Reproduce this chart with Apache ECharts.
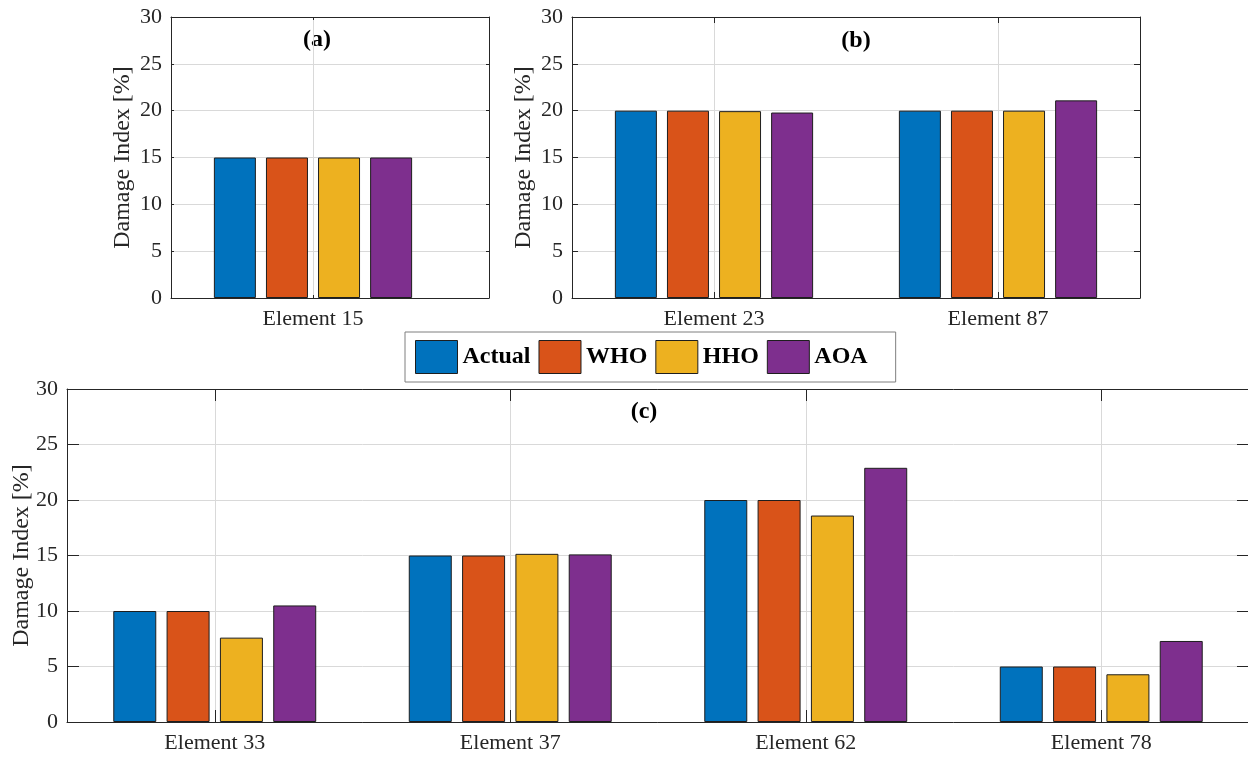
<!DOCTYPE html>
<html><head><meta charset="utf-8">
<script src="https://cdn.jsdelivr.net/npm/echarts@6/dist/echarts.min.js"></script>
<style>html,body{margin:0;padding:0;background:#fff}#c{width:1248px;height:757px}</style>
</head><body><div id="c"></div>
<script>
// ---- data ----
const seriesNames = ['Actual', 'WHO', 'HHO', 'AOA'];
const catsA = ['Element 15'];
const catsB = ['Element 23', 'Element 87'];
const catsC = ['Element 33', 'Element 37', 'Element 62', 'Element 78'];
const actualA = [15];
const whoA = [15];
const hhoA = [15];
const aoaA = [15];
const actualB = [20, 20];
const whoB = [20, 20];
const hhoB = [19.95, 20];
const aoaB = [19.8, 21.1];
const actualC = [10, 15, 20, 5];
const whoC = [10, 15, 20, 5];
const hhoC = [7.6, 15.15, 18.6, 4.3];
const aoaC = [10.5, 15.1, 22.9, 7.3];
const yMin = 0, yMax = 30, yStep = 5;
const panelTitles = ['(a)', '(b)', '(c)'];
const yName = 'Damage Index [%]';

// ---- style ----
const colors = ['#0072BD', '#D95319', '#EDB120', '#7E2F8E'];
const FONT = 'Liberation Serif';
const AX = '#262626';
const GRIDC = '#d9d9d9';

function yLeft(gi, tickLen, nameGap) {
  return {
    gridIndex: gi, type: 'value', position: 'left', min: yMin, max: yMax, interval: yStep,
    name: yName, nameLocation: 'middle', nameGap: nameGap, nameMoveOverlap: false,
    nameTextStyle: { fontFamily: FONT, fontSize: 24, color: AX },
    axisLine: { show: true, onZero: false, lineStyle: { color: AX, width: 1 } },
    axisTick: { show: true, inside: true, length: tickLen, lineStyle: { color: AX } },
    axisLabel: { show: true, margin: 9, fontFamily: FONT, fontSize: 22, color: AX },
    splitLine: { show: true, lineStyle: { color: GRIDC, width: 1 } }
  };
}
function yRight(gi, tickLen) {
  return {
    gridIndex: gi, type: 'value', position: 'right', min: yMin, max: yMax, interval: yStep,
    axisLine: { show: true, onZero: false, lineStyle: { color: AX, width: 1 } },
    axisTick: { show: true, inside: true, length: tickLen, lineStyle: { color: AX } },
    axisLabel: { show: false }, splitLine: { show: false }
  };
}
function xCatBottom(gi, cats, tickLen, showLine) {
  return {
    gridIndex: gi, type: 'category', position: 'bottom', data: cats,
    axisLine: { show: showLine, onZero: false, lineStyle: { color: AX, width: 1 } },
    axisTick: { show: true, inside: true, alignWithLabel: true, length: tickLen, lineStyle: { color: AX } },
    axisLabel: { show: true, margin: 10, fontFamily: FONT, fontSize: 22, color: AX },
    splitLine: { show: true, alignWithLabel: true, lineStyle: { color: GRIDC, width: 1 } }
  };
}
function xCatTop(gi, cats, tickLen, showLine) {
  return {
    gridIndex: gi, type: 'category', position: 'top', data: cats,
    axisLine: { show: showLine, onZero: false, lineStyle: { color: AX, width: 1 } },
    axisTick: { show: true, inside: true, alignWithLabel: true, length: tickLen, lineStyle: { color: AX } },
    axisLabel: { show: false }, splitLine: { show: false }
  };
}
function xFrame(gi, pos) {
  return {
    gridIndex: gi, type: 'value', position: pos, min: 0, max: 1,
    axisLine: { show: true, onZero: false, lineStyle: { color: AX, width: 1 } },
    axisTick: { show: false }, axisLabel: { show: false }, splitLine: { show: false }
  };
}

function bars(names, dataSets, xi, yi, width) {
  return names.map((n, i) => ({
    name: n, type: 'bar', xAxisIndex: xi, yAxisIndex: yi,
    data: dataSets[i], barWidth: width, barGap: '24%',
    itemStyle: { color: colors[i], borderColor: '#1e1e1e', borderWidth: 1 }
  }));
}

const G = { containLabel: false, outerBoundsMode: 'none' };
const option = {
  animation: false,
  backgroundColor: '#fff',
  grid: [
    Object.assign({ left: 171, top: 17, width: 318, height: 281 }, G),   // (a) frame
    Object.assign({ left: 171, top: 17, width: 284, height: 281 }, G),   // (a) bars
    Object.assign({ left: 572, top: 17, width: 568, height: 281 }, G),   // (b)
    Object.assign({ left: 67, top: 389, width: 1182, height: 333 }, G)   // (c)
  ],
  xAxis: [
    xFrame(0, 'bottom'), xFrame(0, 'top'),
    xCatBottom(1, catsA, 3, false), xCatTop(1, catsA, 3, false),
    xCatBottom(2, catsB, 6, true), xCatTop(2, catsB, 6, true),
    xCatBottom(3, catsC, 12, true), xCatTop(3, catsC, 12, true)
  ],
  yAxis: [
    yLeft(0, 3, 36), yRight(0, 3),
    { gridIndex: 1, type: 'value', min: yMin, max: yMax, show: false },
    yLeft(2, 6, 36), yRight(2, 6),
    yLeft(3, 12, 33), yRight(3, 12)
  ],
  legend: {
    data: seriesNames, left: 405, top: 332, orient: 'horizontal',
    padding: [8, 28, 8, 10], itemWidth: 42, itemHeight: 33, itemGap: 8,
    icon: 'rect', selectedMode: false,
    borderColor: '#7f7f7f', borderWidth: 1, backgroundColor: '#fff',
    itemStyle: { borderColor: '#1e1e1e', borderWidth: 1 },
    textStyle: { fontFamily: FONT, fontWeight: 'bold', fontSize: 24, color: '#000' }
  },
  graphic: [
    { type: 'text', x: 317, y: 40, style: { text: panelTitles[0], textAlign: 'center', textVerticalAlign: 'middle', font: 'bold 24px "Liberation Serif"', fill: '#000' } },
    { type: 'text', x: 856, y: 41, style: { text: panelTitles[1], textAlign: 'center', textVerticalAlign: 'middle', font: 'bold 24px "Liberation Serif"', fill: '#000' } },
    { type: 'text', x: 644, y: 412, style: { text: panelTitles[2], textAlign: 'center', textVerticalAlign: 'middle', font: 'bold 24px "Liberation Serif"', fill: '#000' } }
  ],
  series: [].concat(
    bars(seriesNames, [actualA, whoA, hhoA, aoaA], 2, 2, 42),
    bars(seriesNames, [actualB, whoB, hhoB, aoaB], 4, 3, 42),
    bars(seriesNames, [actualC, whoC, hhoC, aoaC], 6, 5, 43)
  )
};

const chart = echarts.init(document.getElementById('c'), null, { renderer: 'canvas' });
chart.setOption(option);
</script>
</body></html>
